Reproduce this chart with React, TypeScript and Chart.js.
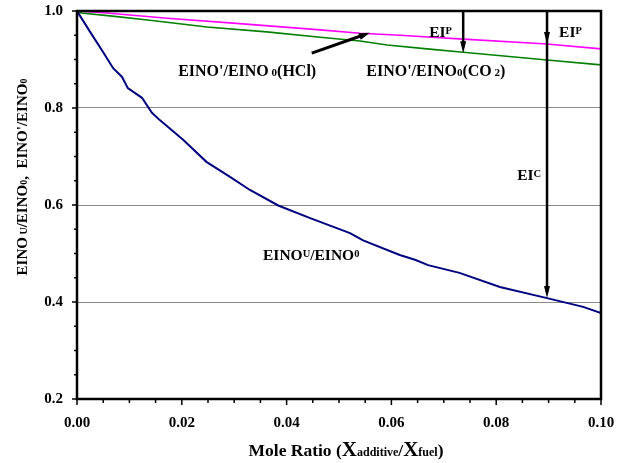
import React, { useEffect, useRef } from "react";
import { Chart, registerables } from "chart.js";

Chart.register(...registerables);

// ---- data ----
const xTickLabels = ["0.00", "0.02", "0.04", "0.06", "0.08", "0.10"];
const yTickLabels = ["0.2", "0.4", "0.6", "0.8", "1.0"];

// EINOu/EINO0 (navy)
const xUncontrolled = [0, 0.0025, 0.005, 0.0069, 0.0086, 0.0097, 0.0124, 0.0143, 0.0158, 0.0203, 0.0247, 0.0292, 0.033, 0.0384, 0.0445, 0.0521, 0.0546, 0.0616, 0.0645, 0.067, 0.073, 0.0807, 0.0897, 0.0966, 0.1];
const yUncontrolled = [1.0, 0.957, 0.915, 0.882, 0.864, 0.841, 0.821, 0.79, 0.775, 0.734, 0.689, 0.658, 0.631, 0.599, 0.573, 0.542, 0.527, 0.497, 0.487, 0.476, 0.46, 0.431, 0.408, 0.39, 0.377];

// EINO'/EINO0 (HCl) (magenta)
const xHCl = [0, 0.0057, 0.0172, 0.0298, 0.0464, 0.054, 0.0616, 0.0737, 0.0897, 0.1];
const yHCl = [1.0, 0.996, 0.985, 0.975, 0.961, 0.954, 0.95, 0.942, 0.932, 0.922];

// EINO'/EINO0 (CO2) (green)
const xCO2 = [0, 0.0008, 0.0063, 0.0139, 0.0248, 0.0362, 0.0464, 0.054, 0.0592, 0.0668, 0.0737, 0.0897, 0.1];
const yCO2 = [1.0, 0.996, 0.99, 0.981, 0.967, 0.957, 0.946, 0.938, 0.93, 0.922, 0.915, 0.899, 0.889];

const SERIF = '"Liberation Serif", "Times New Roman", serif';

type Seg = { t: string; s: number; dy?: number };

function richWidth(ctx: CanvasRenderingContext2D, segs: Seg[]) {
  let w = 0;
  for (const g of segs) {
    ctx.font = `bold ${g.s}px ${SERIF}`;
    w += ctx.measureText(g.t).width;
  }
  return w;
}

function drawRich(ctx: CanvasRenderingContext2D, segs: Seg[], x: number, y: number, align: "left" | "center") {
  const w = richWidth(ctx, segs);
  let cx = align === "center" ? x - w / 2 : x;
  ctx.textBaseline = "alphabetic";
  ctx.textAlign = "left";
  ctx.fillStyle = "#000";
  for (const g of segs) {
    ctx.font = `bold ${g.s}px ${SERIF}`;
    ctx.fillText(g.t, cx, y + (g.dy || 0));
    cx += ctx.measureText(g.t).width;
  }
}

function arrowHead(ctx: CanvasRenderingContext2D, tx: number, ty: number, fx: number, fy: number, len: number, half: number) {
  const ang = Math.atan2(ty - fy, tx - fx);
  const bx = tx - Math.cos(ang) * len;
  const by = ty - Math.sin(ang) * len;
  const px = -Math.sin(ang) * half;
  const py = Math.cos(ang) * half;
  ctx.beginPath();
  ctx.moveTo(tx, ty);
  ctx.lineTo(bx + px, by + py);
  ctx.lineTo(bx - px, by - py);
  ctx.closePath();
  ctx.fill();
}

const decorPlugin = {
  id: "decor",
  afterDraw(chart: any) {
    const ctx: CanvasRenderingContext2D = chart.ctx;
    const xs = chart.scales.x;
    const ys = chart.scales.y;
    const { left, right, top, bottom } = chart.chartArea;
    const X = (v: number) => xs.getPixelForValue(v);
    const Y = (v: number) => ys.getPixelForValue(v);
    ctx.save();

    // tick marks
    ctx.strokeStyle = "#000";
    ctx.lineWidth = 1.5;
    for (const t of xs.ticks) {
      const major = Math.abs(t.value / 0.02 - Math.round(t.value / 0.02)) < 1e-6;
      const px = X(t.value);
      ctx.beginPath();
      ctx.moveTo(px, bottom);
      ctx.lineTo(px, bottom + (major ? 6 : 4));
      ctx.stroke();
    }
    for (const t of ys.ticks) {
      const major = Math.abs(t.value / 0.2 - Math.round(t.value / 0.2)) < 1e-6;
      const py = Y(t.value);
      ctx.beginPath();
      ctx.moveTo(left, py);
      ctx.lineTo(left - (major ? 5 : 3), py);
      ctx.stroke();
    }

    // frame
    ctx.lineWidth = 2.5;
    ctx.strokeRect(left, top, right - left, bottom - top);

    // axis titles
    ctx.save();
    ctx.translate(22, 177);
    ctx.rotate(-Math.PI / 2);
    drawRich(ctx, [
      { t: "EINO", s: 15 }, { t: " U", s: 10 }, { t: "/EINO", s: 15 }, { t: "0", s: 10 },
      { t: ",  EINO'/EINO", s: 15 }, { t: "0", s: 10 },
    ], 0, 5, "center");
    ctx.restore();

    drawRich(ctx, [
      { t: "Mole Ratio (", s: 17.5 }, { t: "X", s: 21 }, { t: "additive", s: 12 },
      { t: "/", s: 17.5 }, { t: "X", s: 21 }, { t: "fuel", s: 12 }, { t: ")", s: 17.5 },
    ], 346, 456, "center");

    // curve labels
    drawRich(ctx, [
      { t: "EINO'/EINO", s: 16 }, { t: " 0", s: 11 }, { t: "(HCl)", s: 16 },
    ], X(0.0193), Y(0.878) + 5.5, "left");
    drawRich(ctx, [
      { t: "EINO'/EINO", s: 16 }, { t: "0", s: 11 }, { t: "(CO", s: 16 }, { t: " 2", s: 11 }, { t: ")", s: 16 },
    ], X(0.0552), Y(0.878) + 5.5, "left");
    drawRich(ctx, [
      { t: "EINO", s: 15.5 }, { t: "U", s: 10.5, dy: -3.4 }, { t: "/EINO", s: 15.5 }, { t: "0", s: 10.5, dy: -3.4 },
    ], X(0.0355), Y(0.497) + 5.2, "left");
    drawRich(ctx, [{ t: "EI", s: 15.5 }, { t: "P", s: 10.5, dy: -3.4 }], X(0.0672), Y(0.957) + 5.2, "left");
    drawRich(ctx, [{ t: "EI", s: 15.5 }, { t: "P", s: 10.5, dy: -3.4 }], X(0.092), Y(0.957) + 5.2, "left");
    drawRich(ctx, [{ t: "EI", s: 15.5 }, { t: "C", s: 10.5, dy: -3.4 }], X(0.084), Y(0.662) + 5.2, "left");

    // arrows
    ctx.strokeStyle = "#000";
    ctx.fillStyle = "#000";
    ctx.lineWidth = 2.5;
    ctx.beginPath();
    ctx.moveTo(X(0.0737), top);
    ctx.lineTo(X(0.0737), Y(0.913) - 6);
    ctx.stroke();
    arrowHead(ctx, X(0.0737), Y(0.913), X(0.0737), top, 12, 3);
    ctx.beginPath();
    ctx.moveTo(X(0.0897), top);
    ctx.lineTo(X(0.0897), Y(0.408) - 6);
    ctx.stroke();
    arrowHead(ctx, X(0.0897), Y(0.932), X(0.0897), top, 12, 3);
    arrowHead(ctx, X(0.0897), Y(0.408), X(0.0897), top, 12, 3);
    ctx.lineWidth = 3;
    ctx.beginPath();
    ctx.moveTo(X(0.0448), Y(0.913));
    ctx.lineTo(X(0.0548), Y(0.951));
    ctx.stroke();
    arrowHead(ctx, X(0.0559), Y(0.955), X(0.0448), Y(0.913), 11, 3.5);

    ctx.restore();
  },
};

const whiteBg = {
  id: "whiteBg",
  beforeDraw(chart: any) {
    const c = chart.ctx;
    c.save();
    c.fillStyle = "#fff";
    c.fillRect(0, 0, chart.width, chart.height);
    c.restore();
  },
};

const zeroPad = (s: any) => {
  s.paddingLeft = 0;
  s.paddingRight = 0;
  s.paddingTop = 0;
  s.paddingBottom = 0;
};

export default function App() {
  const ref = useRef<HTMLCanvasElement | null>(null);
  useEffect(() => {
    if (!ref.current) return;
    const toPts = (xs: number[], ys: number[]) => xs.map((x, i) => ({ x, y: ys[i] }));
    const chart = new Chart(ref.current, {
      type: "line",
      data: {
        datasets: [
          { label: "EINOu/EINO0", data: toPts(xUncontrolled, yUncontrolled), borderColor: "#000080", borderWidth: 2, pointRadius: 0, tension: 0 },
          { label: "EINO'/EINO0(HCl)", data: toPts(xHCl, yHCl), borderColor: "#ff00ff", borderWidth: 1.6, pointRadius: 0, tension: 0 },
          { label: "EINO'/EINO0(CO2)", data: toPts(xCO2, yCO2), borderColor: "#008000", borderWidth: 1.6, pointRadius: 0, tension: 0 },
        ],
      },
      options: {
        responsive: false,
        animation: false,
        events: [],
        layout: { padding: { left: 0, right: 24, top: 11, bottom: 0 } },
        plugins: { legend: { display: false }, tooltip: { enabled: false }, title: { display: false } },
        scales: {
          x: {
            type: "linear",
            min: 0,
            max: 0.1,
            afterFit: (s: any) => { s.height = 64; zeroPad(s); },
            grid: { display: false, drawTicks: false },
            border: { display: false },
            ticks: {
              stepSize: 0.005,
              autoSkip: false,
              maxRotation: 0,
              padding: 15,
              color: "#000",
              font: { family: SERIF, size: 15, weight: "bold" },
              callback: (v: any) => {
                const n = Number(v);
                const k = Math.round(n / 0.02);
                return Math.abs(n - k * 0.02) < 1e-6 ? xTickLabels[k] : "";
              },
            },
          },
          y: {
            type: "linear",
            min: 0.2,
            max: 1.0,
            afterFit: (s: any) => { s.width = 77; zeroPad(s); },
            grid: {
              drawTicks: false,
              lineWidth: 1,
              color: (c: any) => {
                const v = c.tick ? c.tick.value : 0;
                return [0.4, 0.6, 0.8].some((g) => Math.abs(g - v) < 1e-6) ? "#8a8a8a" : "rgba(0,0,0,0)";
              },
            },
            border: { display: false },
            ticks: {
              stepSize: 0.05,
              autoSkip: false,
              padding: 14,
              color: "#000",
              font: { family: SERIF, size: 15, weight: "bold" },
              callback: (v: any) => {
                const n = Number(v);
                const k = Math.round((n - 0.2) / 0.2);
                return Math.abs(n - (0.2 + k * 0.2)) < 1e-6 ? yTickLabels[k] : "";
              },
            },
          },
        },
      },
      plugins: [whiteBg, decorPlugin],
    });
    return () => chart.destroy();
  }, []);
  return (
    <div style={{ position: "absolute", left: 0, top: 0, width: 625, height: 463, background: "#fff" }}>
      <canvas ref={ref} width={625} height={463} style={{ width: 625, height: 463, display: "block" }} />
    </div>
  );
}
